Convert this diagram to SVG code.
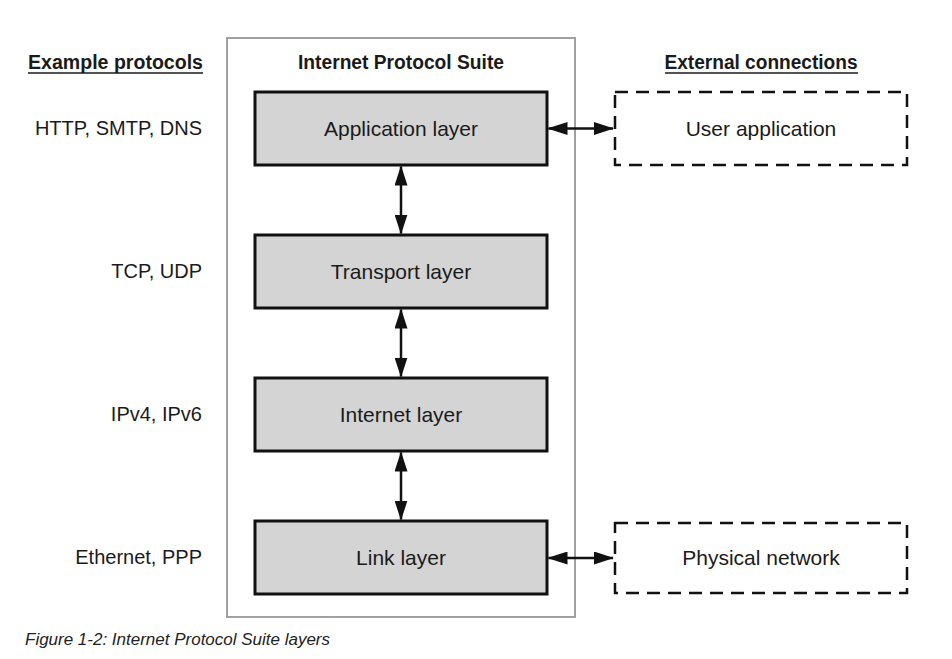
<svg xmlns="http://www.w3.org/2000/svg" width="952" height="659" viewBox="0 0 952 659">
<style>
text{font-family:"Liberation Sans",Arial,sans-serif;fill:#1a1a1a}
.hdr{font-size:20px;font-weight:bold}
.lbl{font-size:20px}
.nm{font-size:21px}
.left{text-anchor:end}
.mid{text-anchor:middle}
.layer{fill:#d4d4d4;stroke:#111;stroke-width:3}
.ext{fill:#fff;stroke:#111;stroke-width:2.5;stroke-dasharray:13 8}
.conn{stroke:#111;stroke-width:2.5;fill:none;marker-start:url(#ah);marker-end:url(#ah)}
.cap{font-size:16px;font-style:italic;fill:#222}
</style>
<defs>
<marker id="ah" viewBox="0 0 20 13" refX="19" refY="6.5" markerWidth="20" markerHeight="13" markerUnits="userSpaceOnUse" orient="auto-start-reverse">
<path d="M0,0 L20,6.5 L0,13 z" fill="#111"/>
</marker>
</defs>
<rect width="952" height="659" fill="#fff"/>

<g id="suite">
<rect x="227" y="38" width="348" height="579" fill="#fff" stroke="#a0a0a0" stroke-width="2"/>
<text class="hdr mid" x="401" y="69" textLength="206" lengthAdjust="spacingAndGlyphs">Internet Protocol Suite</text>
</g>

<g id="headers">
<text class="hdr" x="28" y="69" textLength="175" lengthAdjust="spacingAndGlyphs">Example protocols</text>
<line x1="28" y1="73" x2="203" y2="73" stroke="#1a1a1a" stroke-width="1.5"/>
<text class="hdr mid" x="761" y="69" textLength="193" lengthAdjust="spacingAndGlyphs">External connections</text>
<line x1="665" y1="73" x2="858" y2="73" stroke="#1a1a1a" stroke-width="1.5"/>
</g>

<g id="protocols">
<text class="lbl left" x="202" y="135">HTTP, SMTP, DNS</text>
<text class="lbl left" x="202" y="278">TCP, UDP</text>
<text class="lbl left" x="202" y="421">IPv4, IPv6</text>
<text class="lbl left" x="202" y="564">Ethernet, PPP</text>
</g>

<g id="application-layer">
<rect class="layer" x="255" y="92" width="292" height="73"/>
<text class="nm mid" x="401" y="136">Application layer</text>
</g>
<g id="transport-layer">
<rect class="layer" x="255" y="235" width="292" height="73"/>
<text class="nm mid" x="401" y="279">Transport layer</text>
</g>
<g id="internet-layer">
<rect class="layer" x="255" y="378" width="292" height="73"/>
<text class="nm mid" x="401" y="422">Internet layer</text>
</g>
<g id="link-layer">
<rect class="layer" x="255" y="521" width="292" height="73"/>
<text class="nm mid" x="401" y="565">Link layer</text>
</g>

<g id="user-application">
<rect class="ext" x="615" y="92" width="292" height="73"/>
<text class="nm mid" x="761" y="136">User application</text>
</g>
<g id="physical-network">
<rect class="ext" x="615" y="523" width="292" height="70"/>
<text class="nm mid" x="761" y="565">Physical network</text>
</g>

<g id="connectors">
<line class="conn" x1="401" y1="166.5" x2="401" y2="233.5"/>
<line class="conn" x1="401" y1="309.5" x2="401" y2="376.5"/>
<line class="conn" x1="401" y1="452.5" x2="401" y2="519.5"/>
<line class="conn" x1="548.5" y1="128.5" x2="613" y2="128.5"/>
<line class="conn" x1="548.5" y1="558" x2="613" y2="558"/>
</g>

<text class="cap" x="25" y="645" textLength="305" lengthAdjust="spacingAndGlyphs">Figure 1-2: Internet Protocol Suite layers</text>
</svg>
